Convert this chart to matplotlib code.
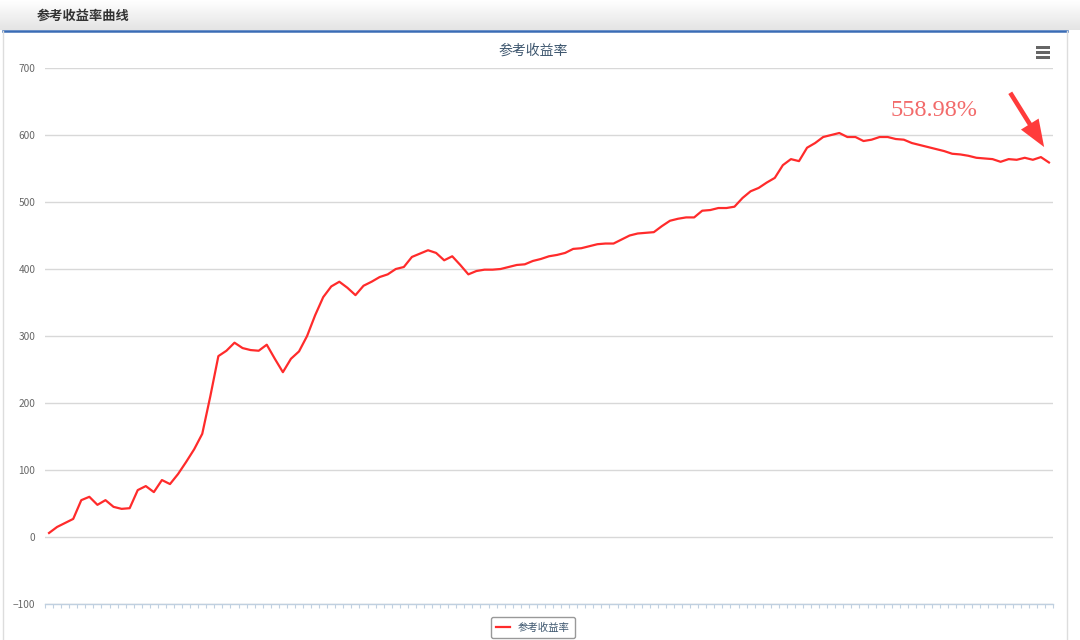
import numpy as np
import matplotlib
matplotlib.use("Agg")
from matplotlib import pyplot as plt
from matplotlib.patches import Rectangle
from matplotlib.lines import Line2D

plt.rcParams['font.family'] = ['Noto Sans CJK SC', 'DejaVu Sans']

# reference return curve (%), one value per trading period
returns = [6, 15, 21, 27, 55, 60, 48, 55, 45, 42,
           43, 70, 76, 67, 85, 79, 94, 112, 131, 154,
           210, 270, 278, 290, 282, 279, 278, 287, 266, 246,
           266, 277, 300, 331, 358, 374, 381, 372, 361, 375,
           381, 388, 392, 400, 403, 418, 423, 428, 424, 413,
           419, 406, 392, 397, 399, 399, 400, 403, 406, 407,
           412, 415, 419, 421, 424, 430, 431, 434, 437, 438,
           438, 444, 450, 453, 454, 455, 464, 472, 475, 477,
           477, 487, 488, 491, 491, 493, 506, 516, 521, 529,
           536, 555, 564, 561, 581, 588, 597, 600, 603, 597,
           597, 591, 593, 597, 597, 594, 593, 588, 585, 582,
           579, 576, 572, 571, 569, 566, 565, 564, 560, 564,
           563, 566, 563, 567, 558.98]
y_ticks = [-100, 0, 100, 200, 300, 400, 500, 600, 700]
series_name = '参考收益率'
panel_title = '参考收益率曲线'
last_label = '558.98%'

W, H = 1080, 640
fig = plt.figure(figsize=(W / 100, H / 100), dpi=100)
fig.patch.set_facecolor('white')

# header bar with a soft gradient
hdr = fig.add_axes([0, (H - 30) / H, 1, 30 / H])
grad = np.linspace(0, 1, 64).reshape(-1, 1)
hdr.imshow(grad, aspect='auto', cmap=matplotlib.colors.LinearSegmentedColormap.from_list(
    'hdr', ['#ffffff', '#e4e4e4']), extent=[0, 1, 0, 1])
hdr.set_xlim(0, 1)
hdr.set_ylim(0, 1)
hdr.axis('off')
hdr.text(37 / W, 0.47, panel_title, fontsize=9.5, fontweight='bold', color='#333333',
         va='center', ha='left')

# blue separator and panel borders
fig.add_artist(Line2D([3 / W, 1067 / W], [(H - 30.5) / H] * 2, color='#3a6cb5', lw=1.8))
fig.add_artist(Line2D([2.5 / W] * 2, [0, (H - 31) / H], color='#dddddd', lw=1))
fig.add_artist(Line2D([1067 / W] * 2, [0, (H - 31) / H], color='#dddddd', lw=1))

# menu icon
for yy in (47, 52, 57):
    fig.add_artist(Rectangle((1036 / W, (H - yy - 1.5) / H), 14 / W, 3 / H,
                             color='#666666', lw=0))

# chart title (centred on the whole panel, not the plot area)
fig.text(533 / W, (H - 51) / H, series_name, fontsize=10, color='#3e576f',
         ha='center', va='center')

ax = fig.add_axes([45 / W, 36 / H, (1053 - 45) / W, (604 - 68) / H])
x = np.arange(len(returns))
ax.plot(x, returns, color='#ff2b2b', lw=1.6, label=series_name, zorder=3)

ax.set_xlim(-0.5, len(returns) - 0.5)
ax.set_ylim(-100, 700)
ax.set_yticks(y_ticks)
ax.yaxis.grid(True, color='#d8d8d8', lw=1)
ax.set_axisbelow(True)
for s in ('top', 'right', 'left'):
    ax.spines[s].set_visible(False)
ax.spines['bottom'].set_color('#c0d0e0')
ax.spines['bottom'].set_linewidth(1)
ax.set_xticks(np.arange(-0.5, len(returns), 1))
ax.tick_params(axis='x', length=3, width=0.8, color='#c0d0e0', labelbottom=False)
ax.tick_params(axis='y', length=0, pad=7, labelsize=7.3, labelcolor='#666666')

# last value annotation
ax.annotate('', xy=(123.4, 582), xytext=(119.2, 663),
            arrowprops=dict(arrowstyle='simple,head_length=1.3,head_width=1.0,tail_width=0.22',
                            color='#ff3b3b', lw=0, mutation_scale=15,
                            shrinkA=0, shrinkB=0))
ax.text(109.8, 637, last_label, fontsize=17.5, color='#f26a6a', ha='center', va='center',
        family='Liberation Serif')

leg = ax.legend(loc='upper center', bbox_to_anchor=(533 / W, 28 / H),
                bbox_transform=fig.transFigure, fontsize=7.5, handlelength=1.3,
                fancybox=True, edgecolor='#999999', framealpha=1, borderpad=0.5)
for t in leg.get_texts():
    t.set_color('#3e576f')

fig.savefig('out.png', dpi=100)
